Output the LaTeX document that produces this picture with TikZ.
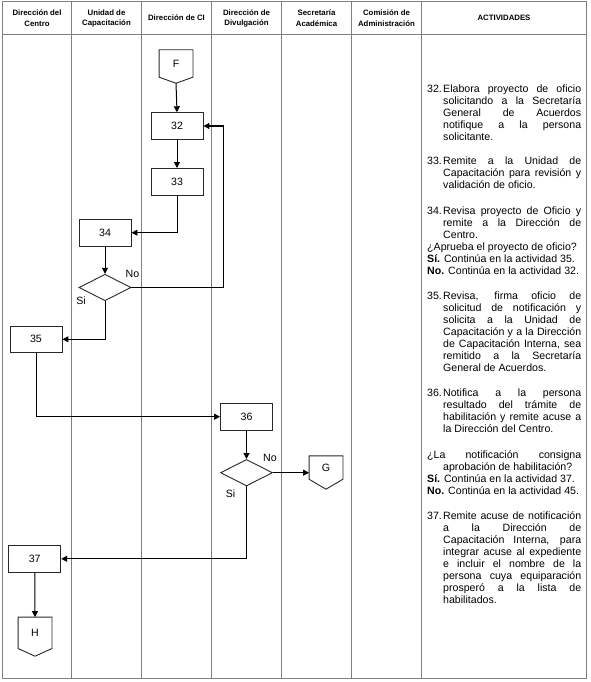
\documentclass[tikz,border=0pt]{standalone}
\usepackage{fontspec}
\setmainfont{Liberation Sans}
\usetikzlibrary{arrows.meta,shapes.geometric,calc}
\definecolor{tgray}{RGB}{128,128,128}
\definecolor{boxline}{RGB}{40,40,40}
\newcommand\offpagedraw[2]{%
  \draw[shapeline] (#1.north west) -- (#1.north east) -- (#1.south east) -- ([yshift=-#2pt]#1.south) -- (#1.south west) -- cycle;}
\newcommand\numpar[2]{\noindent\makebox[16pt][l]{#1}\parbox[t]{138pt}{#2}}
\tikzset{
  tline/.style={draw=tgray, line width=1pt},
  shapeline/.style={draw=boxline, line width=0.9pt},
  stepbox/.style={shapeline, minimum width=52pt, minimum height=26.5pt, inner sep=0, font=\fontsize{10.6}{12}\selectfont},
  decision/.style={diamond, shapeline, minimum width=52pt, minimum height=26.5pt, inner sep=0, aspect=2},
  offp/.style={minimum width=33.5pt, inner sep=0, font=\fontsize{10.6}{12}\selectfont},
  conn/.style={line width=1pt, -{Triangle[length=6pt,width=6pt]}},
  lbl/.style={font=\fontsize{10.6}{12}\selectfont, inner sep=0},
  hdr/.style={font=\fontsize{7.8}{10.7}\selectfont\bfseries, align=center, inner sep=0},
  act/.style={font=\fontsize{10.6}{12}\selectfont, text width=154pt, inner sep=0, anchor=base west, align=justify},
}
\begin{document}
\begin{tikzpicture}[x=1pt,y=-1pt]
\useasboundingbox (0,0) rectangle (590,682);
% table
\draw[tline, line width=1.3pt] (2.5,1.7) rectangle (586.7,678.3);
\draw[tline] (2.5,34.5) -- (586.7,34.5);
\foreach \x in {71.5,141.5,211.5,281.5,351.5,421.5}
  \draw[tline] (\x,1.7) -- (\x,678.3);
% headers
\node[hdr] (h1) at (37,18.5) {Dirección del\\Centro};
\node[hdr] (h2) at (106.5,18.5) {Unidad de\\Capacitación};
\node[hdr] (h3) at (176.5,17.5) {Dirección de CI};
\node[hdr] (h4) at (246.5,18.5) {Dirección de\\Divulgación};
\node[hdr] (h5) at (316.5,18.5) {Secretaría\\Académica};
\node[hdr] (h6) at (386.5,18.5) {Comisión de\\Administración};
\node[hdr] (h7) at (504,18.3) {ACTIVIDADES};
% flow nodes
\node[offp, minimum height=27pt] (F) at (176,63.5) {F};
\offpagedraw{F}{6}
\coordinate (Fp) at ([yshift=-6pt]F.south);
\node[stepbox] (b32) at (177,126) {32};
\node[stepbox] (b33) at (177,181.7) {33};
\node[stepbox] (b34) at (105,232.7) {34};
\node[decision] (d1) at (105,287.5) {};
\node[stepbox] (b35) at (36,339.3) {35};
\node[stepbox] (b36) at (246.5,416.7) {36};
\node[decision] (d2) at (246.5,472.7) {};
\node[offp, minimum height=23pt] (G) at (326,467.5) {G};
\offpagedraw{G}{10}
\node[stepbox] (b37) at (34.7,558.8) {37};
\node[offp, minimum height=31pt] (H) at (35,632.8) {H};
\offpagedraw{H}{7.7}
% labels
\node[lbl] (no1) at (132.5,274) {No};
\node[lbl] (si1) at (81,301) {Si};
\node[lbl] (no2) at (270,457.5) {No};
\node[lbl] (si2) at (230.5,493.5) {Si};
% connectors
\coordinate (lp) at (223.3,126);
\draw[conn] (Fp) -- (b32.north);
\draw[conn] (b32) -- (b33);
\draw[conn] (b33.south) |- (b34.east);
\draw[conn] (b34) -- (d1);
\draw[conn] (d1.east) -| (lp) -- (b32.east);
\draw[conn] (d1.south) |- (b35.east);
\draw[conn] (b35.south) |- (b36.west);
\draw[conn] (b36) -- (d2);
\draw[conn] (d2.east) -- (G.west |- d2.east);
\draw[conn] (d2.south) |- (b37.east);
\draw[conn] (b37) -- (H.north);
% activities
\node[act] (a32) at (427,92.5) {\numpar{32.}{Elabora proyecto de oficio \linebreak solicitando a la Secretaría \linebreak General de Acuerdos \linebreak notifique a la persona \linebreak solicitante.}};
\node[act] (a33) at (427,164.5) {\numpar{33.}{Remite a la Unidad de \linebreak Capacitación para revisión y \linebreak validación de oficio.}};
\node[act] (a34) at (427,214.5) {\numpar{34.}{Revisa proyecto de Oficio y \linebreak remite a la Dirección de \linebreak Centro.}};
\node[act] (a34b) at (427,250.5) {\noindent ¿Aprueba el proyecto de oficio?\par
\noindent\textbf{Sí.} Continúa en la actividad 35.\par
\noindent\textbf{No.} Continúa en la actividad 32.};
\node[act] (a35) at (427,299.5) {\numpar{35.}{Revisa, firma oficio de \linebreak solicitud de notificación y \linebreak solicita a la Unidad de \linebreak Capacitación y a la Dirección \linebreak de Capacitación Interna, sea \linebreak remitido a la Secretaría \linebreak General de Acuerdos.}};
\node[act] (a36) at (427,396.5) {\numpar{36.}{Notifica a la persona \linebreak resultado del trámite de \linebreak habilitación y remite acuse a \linebreak la Dirección del Centro.}};
\node[act] (a36b) at (427,458.5) {\noindent\makebox[154pt][s]{¿La notificación consigna}\par
\noindent\hspace*{16pt}aprobación de habilitación?\par
\noindent\textbf{Sí.} Continúa en la actividad 37.\par
\noindent\textbf{No.} Continúa en la actividad 45.};
\node[act] (a37) at (427,519.5) {\numpar{37.}{Remite acuse de notificación \linebreak a la Dirección de \linebreak Capacitación Interna, para \linebreak integrar acuse al expediente \linebreak e incluir el nombre de la \linebreak persona cuya equiparación \linebreak prosperó a la lista de \linebreak habilitados.}};
\end{tikzpicture}
\end{document}
